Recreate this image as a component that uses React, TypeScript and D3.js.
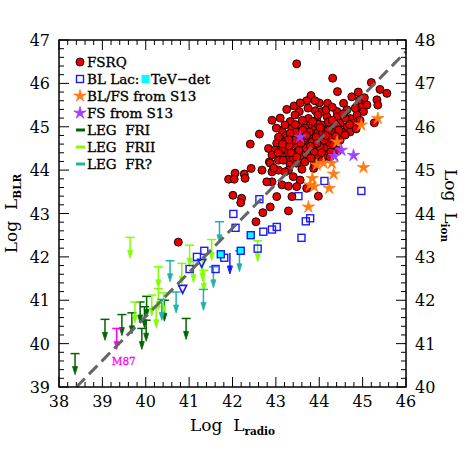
import React from "react"
import * as d3 from "d3"

// log L_radio vs log L_BLR
const fsrq: [number, number][] = [
  [43.48, 46.45], [44.31, 46.12], [45.20, 46.02], [44.42, 45.81], [45.40, 45.86], [45.56, 45.77],
  [43.81, 45.72], [43.71, 45.60], [44.75, 45.69], [44.93, 45.62], [45.04, 45.67], [45.33, 45.62],
  [45.35, 45.50], [44.19, 45.54], [44.56, 45.54], [43.25, 45.40], [43.54, 45.35], [43.91, 45.37],
  [44.06, 45.35], [44.41, 45.35], [44.64, 45.39], [44.97, 45.45], [45.02, 45.35], [43.44, 45.27],
  [42.91, 45.15], [43.33, 45.12], [43.75, 45.19], [43.94, 45.15], [44.18, 45.23], [44.41, 45.23],
  [44.71, 45.19], [44.87, 45.27], [45.27, 45.09], [43.14, 44.92], [43.37, 44.96], [43.56, 45.00],
  [43.79, 45.04], [43.91, 44.96], [44.06, 45.04], [44.25, 45.08], [44.48, 45.08], [44.64, 45.00],
  [44.79, 45.08], [43.06, 44.76], [43.25, 44.81], [43.64, 44.85], [43.83, 44.85], [43.98, 44.88],
  [44.14, 44.92], [44.33, 44.88], [44.52, 44.88], [44.71, 44.88], [43.02, 44.62], [43.21, 44.65],
  [43.37, 44.69], [43.67, 44.69], [43.87, 44.73], [44.02, 44.73], [44.18, 44.77], [42.83, 44.50],
  [42.98, 44.46], [43.14, 44.46], [43.56, 44.54], [43.71, 44.58], [43.91, 44.58], [44.06, 44.62],
  [44.21, 44.62], [42.91, 44.35], [43.10, 44.35], [43.29, 44.39], [43.44, 44.39], [43.64, 44.42],
  [43.79, 44.46], [43.94, 44.46], [43.25, 44.23], [43.40, 44.27], [43.56, 44.27], [43.33, 44.12],
  [43.48, 44.16], [42.43, 44.04], [42.68, 44.00], [43.29, 44.00], [43.60, 44.02], [43.87, 44.04],
  [42.91, 43.73], [42.79, 43.73], [43.14, 43.66], [43.29, 43.63], [43.37, 43.39], [43.98, 43.40],
  [42.87, 43.15], [42.70, 43.02], [43.29, 43.06], [42.54, 42.81], [43.42, 45.48], [42.62, 44.83],
  [42.41, 44.60], [42.85, 44.19], [43.06, 44.23], [42.06, 43.93], [41.91, 43.79], [42.04, 43.79],
  [42.27, 43.91], [42.29, 43.81], [42.87, 44.16], [42.91, 43.96], [43.06, 44.00], [43.21, 43.96],
  [42.01, 43.42], [42.21, 43.35], [42.19, 43.25], [43.02, 43.39], [40.75, 42.34],
  [43.67, 44.97], [43.84, 44.65], [43.97, 44.35], [44.11, 44.51], [44.25, 44.74], [44.39, 45.02],
  [43.51, 44.74], [43.74, 44.35], [44.07, 44.23], [44.21, 45.11], [44.32, 44.58], [43.47, 44.88],
  [43.61, 45.15], [43.97, 45.27], [44.16, 45.39], [44.48, 44.69], [44.60, 45.20], [44.83, 45.43],
  [44.94, 45.15], [43.74, 45.43], [43.21, 45.04], [43.10, 45.20], [43.56, 45.55], [44.60, 44.81],
  [44.44, 44.46], [44.16, 44.35], [43.88, 44.19], [43.67, 44.19], [43.47, 44.58], [43.31, 44.55],
  [43.17, 44.23], [43.01, 44.97], [43.56, 43.77], [43.71, 43.58], [43.48, 43.62],
  [43.63, 44.69], [43.77, 44.88], [43.93, 44.76], [44.07, 44.88], [43.88, 44.42], [44.02, 44.53],
  [43.54, 44.46], [43.70, 44.51], [43.81, 44.28], [43.97, 45.06], [44.11, 44.69], [44.27, 44.42],
  [43.42, 44.69], [43.33, 44.85], [44.21, 44.92],
  [43.45, 45.05], [43.62, 44.92], [43.85, 45.12], [44.02, 44.98], [44.30, 45.15], [44.45, 44.92],
  [43.70, 44.80], [43.95, 44.62], [44.15, 44.80], [44.38, 44.78], [43.58, 44.62], [43.80, 44.55],
  [44.05, 44.40], [44.25, 44.30], [43.35, 44.40], [43.48, 44.30], [43.90, 44.10], [44.55, 45.30],
  [44.70, 45.05], [44.85, 44.95], [43.30, 44.70], [43.15, 44.60], [43.05, 44.40], [42.95, 44.05],
  [43.40, 43.85], [44.00, 45.55], [44.30, 45.45], [44.90, 45.80], [45.10, 45.50], [43.90, 45.60],
]

const blLac: [number, number][] = [
  [44.12, 43.75], [43.52, 43.40], [44.97, 43.52], [43.79, 42.89], [43.69, 42.82], [43.02, 42.69],
  [42.91, 42.63], [42.62, 43.33], [42.02, 42.99], [42.07, 42.67], [42.71, 42.58], [43.59, 42.44],
  [42.58, 42.19], [41.81, 41.98], [41.35, 42.14], [41.18, 42.00], [41.01, 41.72], [41.61, 41.72],
]
const blLacTeV: [number, number][] = [[42.42, 42.50], [42.19, 42.14], [41.73, 42.06]]
const blLacUL: [number, number][] = [[41.94, 42.09]]
const blLacTip: [number, number][] = [[41.29, 41.85], [40.85, 41.25]]

const bfsS13: [number, number][] = [
  [45.35, 45.19], [44.97, 45.04], [44.41, 44.65], [43.94, 44.12], [44.10, 44.16], [44.29, 44.16],
  [44.33, 43.91], [45.02, 44.06], [43.84, 43.81], [43.79, 43.66], [43.88, 43.62], [44.23, 43.58],
  [43.75, 43.15],
]
const fsS13: [number, number][] = [[43.56, 44.76], [44.51, 44.46], [44.35, 44.32], [44.79, 44.34]]

// upper limits: top of the bar
const legFRI: [number, number][] = [
  [38.37, 39.77], [39.06, 40.56], [39.45, 40.67], [39.68, 40.71], [39.91, 40.35], [40.01, 40.54],
  [40.02, 41.09], [39.97, 40.85], [40.43, 41.00], [40.93, 40.58], [39.87, 40.96],
]
const legFRII: [number, number][] = [
  [39.64, 42.45], [41.01, 42.27], [41.52, 42.40], [40.29, 41.77], [40.83, 41.85], [41.10, 41.89],
  [41.31, 41.93], [41.34, 41.69], [40.14, 41.12], [40.29, 41.27], [40.41, 41.17], [39.75, 40.96],
  [40.24, 40.85], [42.58, 42.37],
]
const legFRq: [number, number][] = [
  [41.70, 42.81], [40.56, 41.91], [40.70, 41.19], [41.33, 41.25], [41.56, 41.77], [42.16, 42.14],
  [40.37, 41.02],
]
const m87: [number, number] = [39.33, 40.35]

const lineX = [38.4, 46]
const lineY = [39, 46.73]

const xTicks = [38, 39, 40, 41, 42, 43, 44, 45, 46]
const yTicks = [39, 40, 41, 42, 43, 44, 45, 46, 47]
const yRTicks = [40, 41, 42, 43, 44, 45, 46, 47, 48]

const C = {
  red: "#e80000", blue: "#1a1aff", cyan: "#00ffff", orange: "#ff7a10", purple: "#a040ff",
  fri: "#006400", frii: "#80ff00", frq: "#20b2aa", m87: "#ff00ff", line: "#666666",
}
const FONT = "DejaVu Serif"

const L = 59, R = 406, T = 40, B = 387
const x = d3.scaleLinear().domain([38, 46]).range([L, R])
const y = d3.scaleLinear().domain([39, 47]).range([B, T])
const yR = d3.scaleLinear().domain([40, 48]).range([B, T])

function starPath(ro: number, ri: number, n: number) {
  const pts: [number, number][] = []
  for (let i = 0; i < n * 2; i++) {
    const a = (Math.PI * i) / n - Math.PI / 2
    const r = i % 2 === 0 ? ro : ri
    pts.push([r * Math.cos(a), r * Math.sin(a)])
  }
  return d3.line()(pts) + "Z"
}
const STAR = starPath(6.5, 2.1, 5)

function Arrow({ px, py, color, len = 21 }: { px: number; py: number; color: string; len?: number }) {
  return (
    <g stroke={color} fill={color}>
      <line x1={px - 4.5} x2={px + 4.5} y1={py} y2={py} strokeWidth={1.5} />
      <line x1={px} x2={px} y1={py} y2={py + len - 6} strokeWidth={1.5} />
      <path d={`M${px - 2.5},${py + len - 8} L${px + 2.5},${py + len - 8} L${px},${py + len} Z`} strokeWidth={0.8} />
    </g>
  )
}

function Square({ px, py, fill }: { px: number; py: number; fill: string }) {
  return <rect x={px - 3.5} y={py - 3.5} width={7} height={7} fill={fill} stroke={C.blue} strokeWidth={1.4} />
}

export default function App() {
  const minorX = x.ticks(40)
  const minorY = y.ticks(40)
  const dash = d3.line()(lineX.map((v, i) => [x(v), y(lineY[i])]))
  const legend = [
    { label: "FSRQ", kind: "dot" },
    { label: "BL Lac:", kind: "sq" },
    { label: "BL/FS from S13", kind: "ostar" },
    { label: "FS from S13", kind: "pstar" },
    { label: "LEG  FRI", kind: C.fri },
    { label: "LEG  FRII", kind: C.frii },
    { label: "LEG  FR?", kind: C.frq },
  ]
  return (
    <div style={{ position: "absolute", left: 0, top: 0 }}>
      <svg width={474} height={474} style={{ display: "block", background: "#fff" }}>
        {/* ticks */}
        <g stroke="#000" strokeWidth={1}>
          {minorX.map(t => {
            const len = xTicks.includes(Math.round(t * 10) / 10) ? 10 : 5
            return (
              <g key={"x" + t}>
                <line x1={x(t)} x2={x(t)} y1={B} y2={B - len} />
                <line x1={x(t)} x2={x(t)} y1={T} y2={T + len} />
              </g>
            )
          })}
          {minorY.map(t => {
            const len = yTicks.includes(Math.round(t * 10) / 10) ? 10 : 5
            return (
              <g key={"y" + t}>
                <line x1={L} x2={L + len} y1={y(t)} y2={y(t)} />
                <line x1={R} x2={R - len} y1={y(t)} y2={y(t)} />
              </g>
            )
          })}
        </g>

        {/* upper limits */}
        {legFRI.map((d, i) => <Arrow key={"a" + i} px={x(d[0])} py={y(d[1])} color={C.fri} />)}
        {legFRII.map((d, i) => <Arrow key={"b" + i} px={x(d[0])} py={y(d[1])} color={C.frii} />)}
        {legFRq.map((d, i) => <Arrow key={"c" + i} px={x(d[0])} py={y(d[1])} color={C.frq} />)}
        <Arrow px={x(m87[0])} py={y(m87[1])} color={C.m87} />
        <text x={x(m87[0]) - 5} y={y(m87[1]) + 37} fontFamily={FONT} fontSize={10.5} fill={C.m87}
          stroke={C.m87} strokeWidth={0.3}>M87</text>

        {/* BL Lacs */}
        {blLacUL.map((d, i) => (
          <g key={"u" + i} stroke={C.blue} fill={C.blue}>
            <line x1={x(d[0])} x2={x(d[0])} y1={y(d[1])} y2={y(d[1]) + 14} strokeWidth={1.5} />
            <path d={`M${x(d[0]) - 2.5},${y(d[1]) + 13} L${x(d[0]) + 2.5},${y(d[1]) + 13} L${x(d[0])},${y(d[1]) + 21} Z`} />
          </g>
        ))}
        {blLacTip.map((d, i) => (
          <path key={"t" + i} d={`M${x(d[0]) - 4},${y(d[1]) - 4} L${x(d[0]) + 4},${y(d[1]) - 4} L${x(d[0])},${y(d[1]) + 4} Z`}
            fill="none" stroke={C.blue} strokeWidth={1.6} />
        ))}
        {blLac.map((d, i) => <Square key={"s" + i} px={x(d[0])} py={y(d[1])} fill="none" />)}
        {blLacTeV.map((d, i) => <Square key={"v" + i} px={x(d[0])} py={y(d[1])} fill={C.cyan} />)}

        {/* FSRQ */}
        {fsrq.map((d, i) => (
          <circle key={"f" + i} cx={x(d[0])} cy={y(d[1])} r={4} fill={C.red} stroke="#000" strokeWidth={0.9} />
        ))}

        {/* S13 */}
        {bfsS13.map((d, i) => (
          <path key={"o" + i} d={STAR} transform={`translate(${x(d[0])},${y(d[1])})`} fill={C.orange} stroke={C.orange} strokeWidth={0.8} />
        ))}
        {fsS13.map((d, i) => (
          <path key={"p" + i} d={STAR} transform={`translate(${x(d[0])},${y(d[1])})`} fill={C.purple} stroke={C.purple} strokeWidth={0.8} />
        ))}

        {/* relation */}
        <path d={dash || ""} stroke={C.line} strokeWidth={3} strokeDasharray="12,6" fill="none" />

        {/* frame */}
        <rect x={L} y={T} width={R - L} height={B - T} fill="none" stroke="#000" strokeWidth={1.5} />

        {/* tick labels */}
        <g fontFamily={FONT} fontSize={16} fill="#000">
          {xTicks.map(t => <text key={"xl" + t} x={x(t)} y={B + 20} textAnchor="middle">{t}</text>)}
          {yTicks.map(t => <text key={"yl" + t} x={L - 9} y={y(t) + 6} textAnchor="end">{t}</text>)}
          {yRTicks.map(t => <text key={"rl" + t} x={R + 9} y={yR(t) + 6} textAnchor="start">{t}</text>)}
        </g>

        {/* axis titles */}
        <text x={(L + R) / 2} y={431} textAnchor="middle" fontFamily={FONT} fontSize={17}>
          Log{"\u00a0\u00a0"}L<tspan dy={4} fontSize={10.5} fontWeight="bold">radio</tspan>
        </text>
        <text transform={`translate(17,${(T + B) / 2}) rotate(-90)`} textAnchor="middle" fontFamily={FONT} fontSize={17}>
          Log{"\u00a0\u00a0"}L<tspan dy={4} fontSize={10.5} fontWeight="bold">BLR</tspan>
        </text>
        <text transform={`translate(445,${(T + B) / 2 - 8}) rotate(90)`} textAnchor="middle" fontFamily={FONT} fontSize={17}>
          Log{"\u00a0\u00a0"}L<tspan dy={4} fontSize={10.5} fontWeight="bold">ion</tspan>
        </text>

        {/* legend */}
        <g fontFamily={FONT} fontSize={13.5} stroke="#000" strokeWidth={0.35}>
          {legend.map((e, i) => {
            const ly = 62 + i * 17
            let mark
            if (e.kind === "dot") mark = <circle cx={80} cy={ly} r={4} fill={C.red} stroke="#000" strokeWidth={0.9} />
            else if (e.kind === "sq") mark = <rect x={76.5} y={ly - 3.5} width={7} height={7} fill="none" stroke={C.blue} strokeWidth={1.4} />
            else if (e.kind === "ostar") mark = <path d={STAR} transform={`translate(80,${ly})`} fill={C.orange} stroke={C.orange} strokeWidth={0.8} />
            else if (e.kind === "pstar") mark = <path d={STAR} transform={`translate(80,${ly})`} fill={C.purple} stroke={C.purple} strokeWidth={0.8} />
            else mark = <line x1={76} x2={85} y1={ly} y2={ly} stroke={e.kind} strokeWidth={3} />
            return (
              <g key={e.label}>
                {mark}
                <text x={87} y={ly + 5} style={{ whiteSpace: "pre" }}>{e.label}</text>
              </g>
            )
          })}
          <rect x={142} y={79 - 3.5} width={7} height={7} fill={C.cyan} stroke={C.cyan} strokeWidth={1} />
          <text x={151} y={79 + 5}>TeV−det</text>
        </g>
      </svg>
    </div>
  )
}
